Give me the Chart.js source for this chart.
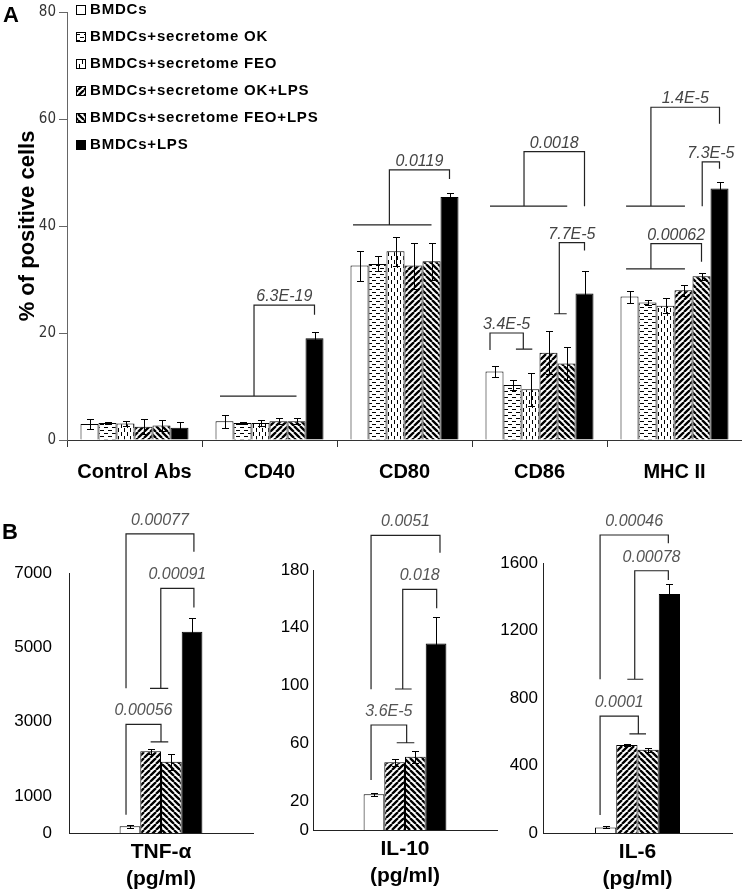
<!DOCTYPE html>
<html><head><meta charset="utf-8">
<script src="https://cdn.jsdelivr.net/npm/chart.js@4.4.1/dist/chart.umd.min.js"></script>
<style>
html,body{margin:0;padding:0;background:#fff;}
#wrap{position:relative;width:742px;height:896px;overflow:hidden;font-family:'Liberation Sans',Arial,sans-serif;}
canvas{position:absolute;}
.panel{position:absolute;font-weight:bold;font-size:22px;line-height:22px;color:#000;z-index:5;}
</style></head><body>
<div id="wrap">
<canvas id="cA" width="742" height="500" style="left:0;top:0"></canvas>
<canvas id="cT" width="260" height="396" style="left:0;top:500px"></canvas>
<canvas id="cI6" width="252" height="396" style="left:490px;top:500px"></canvas>
<canvas id="cI10" width="240" height="396" style="left:260px;top:500px"></canvas>
<div class="panel" style="left:3px;top:4px;">A</div>
<div class="panel" style="left:2px;top:521px;">B</div>
</div>
<script>
// ---------- Panel A data ----------
const categoriesA = ['Control Abs', 'CD40', 'CD80', 'CD86', 'MHC II'];
const seriesNames = ['BMDCs', 'BMDCs+secretome OK', 'BMDCs+secretome FEO', 'BMDCs+secretome OK+LPS', 'BMDCs+secretome FEO+LPS', 'BMDCs+LPS'];
const bmdcs      = [3.0, 3.5, 32.6, 12.8, 26.8];
const bmdcsErr   = [1.0, 1.2, 2.8, 1.1, 1.1];
const secOK      = [3.2, 3.2, 32.9, 10.3, 25.7];
const secOKErr   = [0.2, 0.2, 1.4, 0.9, 0.5];
const secFEO     = [3.1, 3.2, 35.3, 9.5, 25.1];
const secFEOErr  = [0.4, 0.5, 2.7, 3.1, 1.4];
const okLPS      = [2.5, 3.5, 32.6, 16.3, 28.0];
const okLPSErr   = [1.4, 0.6, 4.3, 4.0, 1.0];
const feoLPS     = [2.7, 3.5, 33.4, 14.3, 30.6];
const feoLPSErr  = [1.0, 0.6, 3.5, 3.1, 0.6];
const lps        = [2.3, 19.0, 45.4, 27.4, 47.0];
const lpsErr     = [1.0, 1.1, 0.8, 4.2, 1.3];
const ticksA     = [0, 20, 40, 60, 80];
// significance brackets (category, left leg [slot, from], right leg [slot, to], top value, extra segments)
const bracketsA = [
  {cat:1, l:[1.64, 8.2],  r:[5, 23.4],  top:25.2, bars:[[-0.25, 4, 8.2]],   label:'6.3E-19'},
  {cat:2, l:[1.66, 40.2], r:[5, 48.8],  top:50.5, bars:[[-0.36, 4, 40.2]],  label:'0.0119'},
  {cat:3, l:[1.64, 43.7], r:[5, 43.7],  top:53.9, bars:[[-0.25, 4.04, 43.7]], label:'0.0018'},
  {cat:3, l:[3.6, 23.6],  r:[5, 35.4],  top:36.9, bars:[[3.31, 4.01, 23.6]], label:'7.7E-5'},
  {cat:3, l:[-0.25, 16.8], r:[1.6, 17.0], top:20.0, bars:[[1.19, 2.1, 17.0]], label:'3.4E-5'},
  {cat:4, l:[1.19, 43.7], r:[5, 59.1],  top:62.2, bars:[[-0.19, 3.08, 43.7]], label:'1.4E-5'},
  {cat:4, l:[4.04, 43.7], r:[5, 50.7],  top:52.0, bars:[],                  label:'7.3E-5'},
  {cat:4, l:[1.19, 32.0], r:[4.0, 33.3], top:36.7, bars:[[-0.19, 3.08, 32.0]], label:'0.00062'}
];

// ---------- Panel B data ----------
const cytoSeries = ['BMDCs', 'BMDCs+secretome OK+LPS', 'BMDCs+secretome FEO+LPS', 'BMDCs+LPS'];
const tnfLabel  = ['TNF-α', '(pg/ml)'];
const tnf       = [180, 2200, 1920, 5420];
const tnfErr    = [40, 75, 220, 380];
const tnfTicks  = [0, 1000, 3000, 5000, 7000];
const il10Label = ['IL-10', '(pg/ml)'];
const il10      = [24.7, 46.9, 50.7, 129.2];
const il10Err   = [1.2, 2.3, 4.0, 18.4];
const il10Ticks = [0, 20, 60, 100, 140, 180];
const il6Label  = ['IL-6', '(pg/ml)'];
const il6       = [33, 522, 493, 1417];
const il6Err    = [6, 8, 12, 60];
const il6Ticks  = [0, 400, 800, 1200, 1600];
const bracketsTNF = [
  {cat:0, l:[-0.19, 3895], r:[3.09, 7574], top:8051, bars:[], label:'0.00077'},
  {cat:0, l:[1.49, 3895], r:[3.09, 6073], top:6586, bars:[[0.97, 1.85, 3895]], label:'0.00091'},
  {cat:0, l:[-0.19, 494], r:[1.5, 2456], top:2924, bars:[[1.0, 1.85, 2456]], label:'0.00056'}
];
const bracketsIL10 = [
  {cat:0, l:[-0.14, 97.4], r:[3.19, 191.9], top:204, bars:[], label:'0.0051'},
  {cat:0, l:[1.39, 97.6], r:[3.03, 153.6], top:166.6, bars:[[1.02, 1.82, 97.6]], label:'0.018'},
  {cat:0, l:[-0.14, 34.6], r:[1.58, 60.4], top:72.7, bars:[[1.1, 1.95, 60.4]], label:'3.6E-5'}
];
const bracketsIL6 = [
  {cat:0, l:[-0.26, 911], r:[2.95, 1717], top:1766, bars:[], label:'0.00046'},
  {cat:0, l:[1.37, 911], r:[2.95, 1499], top:1554, bars:[[1.02, 1.77, 911]], label:'0.00078'},
  {cat:0, l:[-0.26, 107], r:[1.54, 587], top:693, bars:[[1.12, 1.9, 587]], label:'0.0001'}
];

// ---------- helpers ----------
const SANS = "'Liberation Sans', Arial, Helvetica, sans-serif";
const NARROW = "'Liberation Sans Narrow', 'Arial Narrow', 'DejaVu Sans Condensed', sans-serif";
Chart.defaults.font.family = SANS;
Chart.defaults.color = '#000';

function makePattern(targetCtx, kind) {
  if (kind === 'white') return '#fff';
  if (kind === 'black') return '#000';
  const c = document.createElement('canvas');
  let w = 6, h = 6;
  if (kind === 'hdash') { w = 8; h = 6; }
  if (kind === 'vdash') { w = 6; h = 8; }
  c.width = w; c.height = h;
  const x = c.getContext('2d');
  x.fillStyle = '#fff'; x.fillRect(0, 0, w, h);
  x.fillStyle = '#000'; x.strokeStyle = '#000';
  if (kind === 'hdash') { x.fillRect(0, 1, 4, 1); x.fillRect(4, 4, 4, 1); }
  else if (kind === 'vdash') { x.fillRect(1, 0, 1, 4); x.fillRect(4, 4, 1, 4); }
  else {
    x.lineWidth = 2.3;
    x.beginPath();
    for (let k = -2; k <= 2; k++) {
      if (kind === 'up') { x.moveTo(k * w, h); x.lineTo(k * w + w, 0); }
      else { x.moveTo(k * w, 0); x.lineTo(k * w + w, h); }
    }
    x.stroke();
  }
  return targetCtx.createPattern(c, 'repeat');
}

function errorBarPlugin(errs, cap) {
  return {
    id: 'errbars',
    afterDatasetsDraw(chart) {
      const ctx = chart.ctx, ys = chart.scales.y;
      ctx.save();
      ctx.strokeStyle = '#000'; ctx.lineWidth = 1;
      chart.data.datasets.forEach((ds, i) => {
        chart.getDatasetMeta(i).data.forEach((bar, j) => {
          const v = ds.data[j], e = errs[i][j];
          const x = Math.round(bar.x) + 0.5;
          const y1 = Math.round(ys.getPixelForValue(v + e)) + 0.5;
          const y2 = Math.round(ys.getPixelForValue(v - e)) + 0.5;
          ctx.beginPath();
          ctx.moveTo(x, y1); ctx.lineTo(x, y2);
          ctx.moveTo(x - cap / 2, y1); ctx.lineTo(x + cap / 2, y1);
          ctx.moveTo(x - cap / 2, y2); ctx.lineTo(x + cap / 2, y2);
          ctx.stroke();
        });
      });
      ctx.restore();
    }
  };
}

function bracketPlugin(brackets, n, gap, font, color) {
  return {
    id: 'brackets',
    afterDraw(chart) {
      const ctx = chart.ctx, ys = chart.scales.y;
      const m0 = chart.getDatasetMeta(0), mN = chart.getDatasetMeta(n - 1);
      ctx.save();
      ctx.strokeStyle = '#222'; ctx.lineWidth = 1.2;
      brackets.forEach(b => {
        const x0 = m0.data[b.cat].x, x1 = mN.data[b.cat].x;
        const sp = (x1 - x0) / (n - 1);
        const px = p => x0 + p * sp;
        const py = v => ys.getPixelForValue(v);
        const xl = px(b.l[0]), xr = px(b.r[0]), yt = py(b.top);
        ctx.beginPath();
        ctx.moveTo(xl, py(b.l[1])); ctx.lineTo(xl, yt); ctx.lineTo(xr, yt); ctx.lineTo(xr, py(b.r[1]));
        b.bars.forEach(s => { ctx.moveTo(px(s[0]), py(s[2])); ctx.lineTo(px(s[1]), py(s[2])); });
        ctx.stroke();
        ctx.font = font; ctx.fillStyle = color;
        ctx.textAlign = 'center'; ctx.textBaseline = 'alphabetic';
        ctx.fillText(b.label, (xl + xr) / 2, yt - gap);
      });
      ctx.restore();
    }
  };
}

// ---------- Panel A ----------
const ctxA = document.getElementById('cA').getContext('2d');
const patsA = ['white', 'hdash', 'vdash', 'up', 'down', 'black'].map(k => makePattern(ctxA, k));
const valuesA = [bmdcs, secOK, secFEO, okLPS, feoLPS, lps];
const errsA = [bmdcsErr, secOKErr, secFEOErr, okLPSErr, feoLPSErr, lpsErr];

const legendA = {
  id: 'legendA',
  afterDraw(chart) {
    const ctx = chart.ctx;
    ctx.save();
    ctx.font = 'bold 15px ' + SANS;
    if ('letterSpacing' in ctx) ctx.letterSpacing = '0.8px';
    ctx.textBaseline = 'middle'; ctx.textAlign = 'left';
    seriesNames.forEach((name, i) => {
      const yc = 9.5 + i * 27;
      ctx.fillStyle = patsA[i];
      ctx.fillRect(76, Math.round(yc - 5), 10, 10);
      ctx.strokeStyle = '#000'; ctx.lineWidth = 1;
      ctx.strokeRect(76.5, Math.round(yc - 5) + 0.5, 9, 9);
      ctx.fillStyle = '#000';
      ctx.fillText(name, 90, yc + 0.5);
    });
    ctx.restore();
  }
};

new Chart(ctxA, {
  type: 'bar',
  data: {
    labels: categoriesA,
    datasets: seriesNames.map((name, i) => ({
      label: name, data: valuesA[i], backgroundColor: patsA[i],
      borderColor: '#000', borderWidth: 1,
      categoryPercentage: 0.8, barPercentage: 1.0
    }))
  },
  options: {
    responsive: false, animation: false, devicePixelRatio: 1,
    layout: { padding: { top: 10, right: 0, left: 0, bottom: 0 } },
    plugins: { legend: { display: false }, tooltip: { enabled: false } },
    scales: {
      x: {
        afterFit: s => { s.height = 60; },
        grid: { display: true, drawOnChartArea: false, drawTicks: true, tickLength: 7, color: '#333', offset: true },
        border: { display: true, color: '#333', width: 1 },
        ticks: { font: { size: 20, weight: 'bold' }, color: '#000', padding: 13 }
      },
      y: {
        min: 0, max: 80,
        afterFit: s => { s.width = 67; },
        afterBuildTicks: s => { s.ticks = ticksA.map(v => ({ value: v })); },
        grid: { display: true, drawOnChartArea: false, drawTicks: true, tickLength: 8, color: '#666' },
        border: { display: true, color: '#666', width: 1 },
        ticks: { font: { size: 15, family: NARROW }, color: '#333', padding: 3 },
        title: { display: true, text: '% of positive cells', font: { size: 22, weight: 'bold' }, color: '#000', padding: { top: 15, bottom: 0 } }
      }
    }
  },
  plugins: [errorBarPlugin(errsA, 7), bracketPlugin(bracketsA, 6, 4, 'italic 16px ' + SANS, '#444'), legendA]
});

// ---------- Panel B ----------
function cytoChart(id, label, values, errs, ticks, maxV, brackets, dims) {
  const ctx = document.getElementById(id).getContext('2d');
  const pats = ['white', 'up', 'down', 'black'].map(k => makePattern(ctx, k));
  return new Chart(ctx, {
    type: 'bar',
    data: {
      labels: [label],
      datasets: cytoSeries.map((name, i) => ({
        label: name, data: [values[i]], backgroundColor: pats[i],
        borderColor: '#000', borderWidth: 1,
        categoryPercentage: 0.45, barPercentage: 1.0
      }))
    },
    options: {
      responsive: false, animation: false, devicePixelRatio: 1,
      layout: { padding: { top: dims.top, right: dims.right, left: 0, bottom: 0 } },
      plugins: { legend: { display: false }, tooltip: { enabled: false } },
      scales: {
        x: {
          afterFit: s => { s.height = dims.xh; },
          grid: { display: false, drawTicks: false },
          border: { display: true, color: '#222', width: 1 },
          ticks: { font: { size: 21, weight: 'bold', lineHeight: 1.29 }, color: '#000', padding: 6 }
        },
        y: {
          min: 0, max: maxV,
          afterFit: s => { s.width = dims.yw; },
          afterBuildTicks: s => { s.ticks = ticks.map(v => ({ value: v })); },
          grid: { display: false, drawTicks: false },
          border: { display: true, color: '#222', width: 1 },
          ticks: { font: { size: 17 }, color: '#000', padding: dims.tp, callback: v => String(v) }
        }
      }
    },
    plugins: [errorBarPlugin(errs.map(e => [e]), 7), bracketPlugin(brackets, 4, 9, 'italic 16px ' + SANS, '#555')]
  });
}

cytoChart('cT', tnfLabel, tnf, tnfErr, tnfTicks, 7000, bracketsTNF, { top: 73, right: 7, xh: 63, yw: 69, tp: 17 });
cytoChart('cI10', il10Label, il10, il10Err, il10Ticks, 180, bracketsIL10, { top: 70, right: 3, xh: 66, yw: 53, tp: 4 });
cytoChart('cI6', il6Label, il6, il6Err, il6Ticks, 1600, bracketsIL6, { top: 63, right: 10, xh: 63, yw: 53, tp: 5 });
</script>
</body></html>
